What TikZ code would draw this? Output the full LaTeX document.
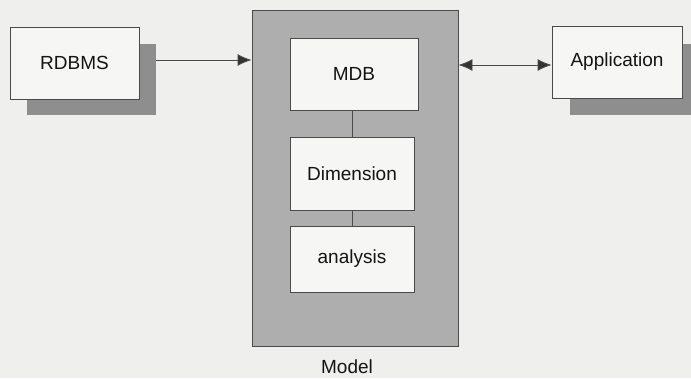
\documentclass[tikz,border=0pt]{standalone}
\usepackage{fontspec}
\setmainfont{Liberation Sans}
\usetikzlibrary{arrows.meta}
\definecolor{bgc}{HTML}{EFEFED}
\definecolor{boxc}{HTML}{F6F6F4}
\definecolor{shadc}{HTML}{8E8E8E}
\definecolor{modelc}{HTML}{AEAEAE}
\definecolor{linec}{HTML}{4A4A4A}
\tikzset{
  box/.style={draw=linec, line width=0.9pt, fill=boxc, text=black!92, font=\fontsize{19}{22}\selectfont, inner sep=0pt},
  shade/.style={fill=shadc, draw=none, inner sep=0pt},
  arr/.style={draw=linec, line width=0.9pt, -{Latex[length=14pt,width=12pt,fill=black!80]}},
  darr/.style={draw=linec, line width=0.9pt, {Latex[length=14pt,width=12pt,fill=black!80]}-{Latex[length=14pt,width=12pt,fill=black!80]}},
  link/.style={draw=linec, line width=0.9pt}
}
\begin{document}
\begin{tikzpicture}[x=1pt,y=-1pt]
\fill[bgc] (0,0) rectangle (691,378);
\useasboundingbox (0,0) rectangle (691,378);
% shadows
\node[shade, minimum width=129pt, minimum height=71pt] (rdbmsS) at (91.5,79.5) {};
\node[shade, minimum width=130pt, minimum height=71pt] (appS) at (635,79) {};
% model
\node[draw=linec, line width=0.9pt, fill=modelc, minimum width=206pt, minimum height=336pt, inner sep=0pt] (model) at (355,178) {};
% boxes
\node[box, minimum width=129pt, minimum height=72pt] (rdbms) at (74.5,63) {RDBMS};
\node[box, minimum width=130pt, minimum height=72pt] (app) at (617,62) {Application};
\node[box, minimum width=128pt, minimum height=72pt] (mdb) at (354,74) {MDB};
\node[box, minimum width=124pt, minimum height=73pt] (dim) at (352,173.5) {Dimension};
\node[box, minimum width=124pt, minimum height=66pt] (ana) at (352,259) {analysis};
\node[font=\fontsize{19}{22}\selectfont, text=black!92] (mlabel) at (347,367) {Model};
% connectors
\draw[arr] ([yshift=3pt]rdbmsS.east |- rdbms.center) -- ([yshift=3pt]model.west |- rdbms.center);
\draw[darr] ([yshift=-3pt]model.east |- app.center) -- ([yshift=-3pt]app.west);
\draw[link] (dim.north |- mdb.south) -- (dim.north);
\draw[link] (dim.south) -- (ana.north);
\end{tikzpicture}
\end{document}
